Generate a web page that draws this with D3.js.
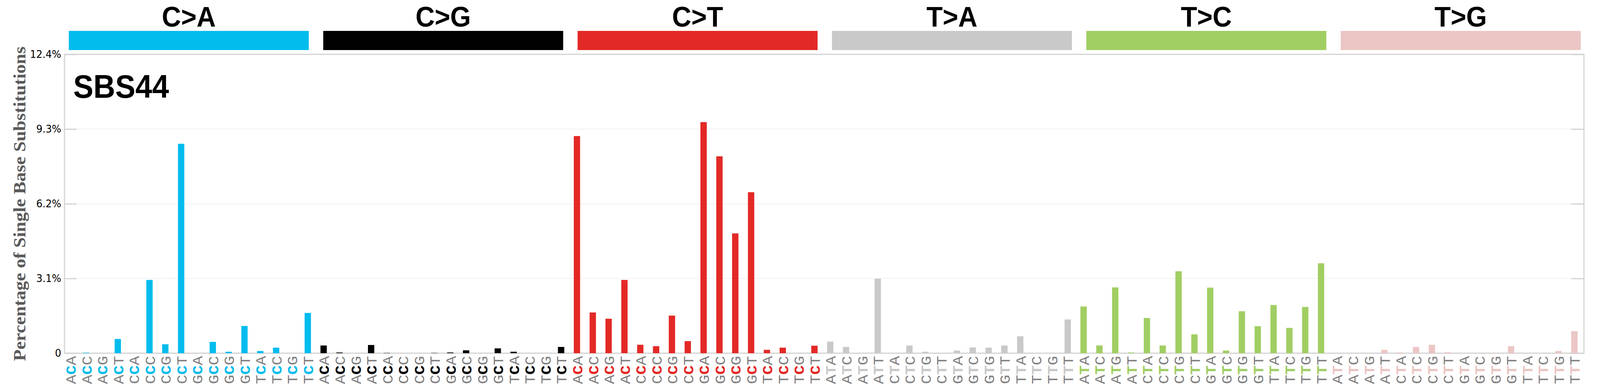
<!DOCTYPE html>
<html>
<head>
<meta charset="utf-8">
<script src="https://d3js.org/d3.v7.min.js"></script>
<style>
    html, body { margin: 0; padding: 0; width: 100%; height: 100%; overflow: hidden; background: #fff; }
    #chart { width: 100%; height: 100%; }
    svg { display: block; }
</style>
</head>
<body>
<div id="chart"></div>
<script>
// Mutation classes and their colours
const mutationTypes = ["C>A", "C>G", "C>T", "T>A", "T>C", "T>G"];
const typeColors = ["#03BCEE", "#010101", "#E32926", "#CAC9C9", "#A1CE63", "#EBC6C4"];

// Trinucleotide contexts (16 per class)
const cContexts = ["ACA", "ACC", "ACG", "ACT", "CCA", "CCC", "CCG", "CCT",
                   "GCA", "GCC", "GCG", "GCT", "TCA", "TCC", "TCG", "TCT"];
const tContexts = ["ATA", "ATC", "ATG", "ATT", "CTA", "CTC", "CTG", "CTT",
                   "GTA", "GTC", "GTG", "GTT", "TTA", "TTC", "TTG", "TTT"];

// Percentages
const caValues = [0, 0.02, 0, 0.59, 0, 3.04, 0.37, 8.69, 0, 0.47, 0.06, 1.13, 0.09, 0.23, 0, 1.67];
const cgValues = [0.32, 0.03, 0, 0.34, 0.01, 0, 0, 0.01, 0.03, 0.12, 0, 0.2, 0.06, 0, 0, 0.26];
const ctValues = [9.01, 1.69, 1.43, 3.04, 0.35, 0.29, 1.56, 0.5, 9.59, 8.17, 4.97, 6.68, 0.14, 0.23, 0, 0.31];
const taValues = [0.48, 0.26, 0, 3.09, 0, 0.32, 0.06, 0, 0.11, 0.24, 0.23, 0.32, 0.7, 0, 0, 1.4];
const tcValues = [1.94, 0.32, 2.73, 0.03, 1.46, 0.32, 3.4, 0.78, 2.72, 0.11, 1.74, 1.12, 2.0, 1.05, 1.92, 3.73];
const tgValues = [0, 0, 0, 0.14, 0.03, 0.26, 0.35, 0.04, 0, 0, 0.01, 0.29, 0, 0, 0.09, 0.91];

// Y axis ticks
const yTicks = [0, 3.1, 6.2, 9.3, 12.4];
const yTickLabels = ["0", "3.1%", "6.2%", "9.3%", "12.4%"];

const signatureName = "SBS44";
const yTitle = "Percentage of Single Base Substitutions";

// Flatten into one list of 96 bars
const seriesValues = [caValues, cgValues, ctValues, taValues, tcValues, tgValues];
const data = [];
mutationTypes.forEach((type, t) => {
    const contexts = type[0] === "C" ? cContexts : tContexts;
    contexts.forEach((ctx, i) => {
        data.push({ key: type + ":" + ctx, type: type, color: typeColors[t], context: ctx, value: seriesValues[t][i] });
    });
});

const width = 4393, height = 992;
const plotLeft = 177, plotRight = 4349, plotTop = 139, plotBottom = 903;

// drawn in a fixed 4393x992 coordinate space, stretched to whatever the window is
const svg = d3.select("#chart").append("svg")
    .attr("width", "100%")
    .attr("height", "100%")
    .attr("viewBox", `0 0 ${width} ${height}`)
    .attr("preserveAspectRatio", "none");

// Scales
const xScale = d3.scaleBand()
    .domain(data.map(d => d.key))
    .range([171.3, 4344.4])
    .paddingInner(0.6)
    .paddingOuter(0.3);

const yScale = d3.scaleLinear()
    .domain([0, 12.4])
    .range([plotBottom, plotTop]);

const headerScale = d3.scaleBand()
    .domain(mutationTypes)
    .range([189, 4340])
    .paddingInner(0.0566);

// Header strips and their titles
svg.selectAll(".header")
    .data(mutationTypes)
    .enter()
    .append("rect")
    .attr("x", d => headerScale(d))
    .attr("y", 79)
    .attr("width", headerScale.bandwidth())
    .attr("height", 49)
    .attr("fill", (d, i) => typeColors[i]);

svg.selectAll(".header-label")
    .data(mutationTypes)
    .enter()
    .append("text")
    .attr("x", d => headerScale(d) + headerScale.bandwidth() / 2)
    .attr("y", 68)
    .attr("text-anchor", "middle")
    .attr("font-family", "Liberation Sans, Arial, sans-serif")
    .attr("font-weight", "bold")
    .attr("font-size", 73)
    .text(d => d);

// Grid lines
svg.selectAll(".grid")
    .data(yTicks.slice(1, -1))
    .enter()
    .append("line")
    .attr("x1", plotLeft)
    .attr("x2", plotRight)
    .attr("y1", d => yScale(d))
    .attr("y2", d => yScale(d))
    .attr("stroke", "#ececec")
    .attr("stroke-width", 1.5);

// Plot frame
svg.append("rect")
    .attr("x", plotLeft)
    .attr("y", plotTop)
    .attr("width", plotRight - plotLeft)
    .attr("height", plotBottom - plotTop)
    .attr("fill", "none")
    .attr("stroke", "#d3d3d3")
    .attr("stroke-width", 3);

// Left axis (ticks point inward)
const leftAxis = svg.append("g")
    .attr("transform", `translate(${plotLeft},0)`)
    .call(d3.axisLeft(yScale)
        .tickValues(yTicks)
        .tickSize(-33)
        .tickPadding(9)
        .tickFormat((d, i) => yTickLabels[i]));
leftAxis.select(".domain").remove();
leftAxis.selectAll(".tick line").attr("stroke", "#d3d3d3").attr("stroke-width", 3);
leftAxis.selectAll(".tick text")
    .attr("font-family", "DejaVu Sans, sans-serif")
    .attr("font-size", 27)
    .attr("fill", "#000");

// Right axis, ticks only
const rightAxis = svg.append("g")
    .attr("transform", `translate(${plotRight},0)`)
    .call(d3.axisRight(yScale)
        .tickValues(yTicks)
        .tickSize(-35)
        .tickFormat(""));
rightAxis.select(".domain").remove();
rightAxis.selectAll(".tick line").attr("stroke", "#d3d3d3").attr("stroke-width", 3);

// Bars
svg.selectAll(".bar")
    .data(data)
    .enter()
    .append("rect")
    .attr("x", d => xScale(d.key))
    .attr("y", d => yScale(d.value))
    .attr("width", xScale.bandwidth())
    .attr("height", d => yScale(0) - yScale(d.value))
    .attr("fill", d => d.color);

// Signature name
svg.append("text")
    .attr("x", 201)
    .attr("y", 250)
    .attr("font-family", "Liberation Sans, Arial, sans-serif")
    .attr("font-weight", "bold")
    .attr("font-size", 83)
    .text(signatureName);

// Y axis title
svg.append("text")
    .attr("transform", `translate(70,${(plotTop + plotBottom) / 2}) rotate(-90)`)
    .attr("text-anchor", "middle")
    .attr("font-family", "Liberation Serif, Times New Roman, serif")
    .attr("font-weight", "bold")
    .attr("font-size", 48)
    .attr("fill", "#5a5a5a")
    .text(yTitle);

// Context labels, written bottom to top with the mutated base highlighted
const labels = svg.selectAll(".ctx")
    .data(data)
    .enter()
    .append("text")
    .attr("transform", d => `translate(${xScale(d.key) + xScale.bandwidth() / 2},910) rotate(-90)`)
    .attr("text-anchor", "end")
    .attr("dy", "0.375em")
    .attr("font-family", "Liberation Mono, Courier New, monospace")
    .attr("font-size", 40);

labels.append("tspan").attr("fill", "#808080").text(d => d.context[0]);
labels.append("tspan")
    .attr("fill", d => d.color)
    .attr("font-weight", "bold")
    .text(d => d.context[1]);
labels.append("tspan").attr("fill", "#808080").text(d => d.context[2]);
</script>
</body>
</html>
